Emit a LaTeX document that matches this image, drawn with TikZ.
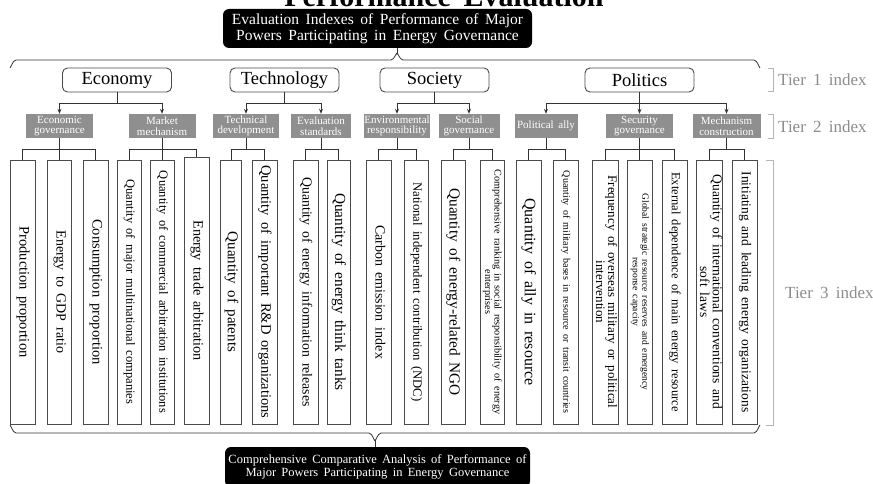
\documentclass[tikz,border=0pt]{standalone}
\usepackage{fontspec}
\setmainfont{Liberation Serif}[WordSpace=1.7]
\usepackage{graphicx}
\usetikzlibrary{arrows.meta}
\definecolor{boxline}{HTML}{4A4A4A}
\definecolor{tiergray}{HTML}{8F8F8F}
\definecolor{labgray}{HTML}{8C8C8C}
\definecolor{brgray}{HTML}{B4B4B4}
\newcommand{\vtext}[3]{\rotatebox{-90}{\fontsize{#1}{#2}\selectfont\begin{tabular}{@{}c@{}}#3\end{tabular}}}
\begin{document}
\begin{tikzpicture}[x=1pt,y=-1pt,
  tone/.style={draw=boxline, line width=0.9pt, rounded corners=5pt, minimum width=109, minimum height=24, inner sep=0, font=\fontsize{18.5}{20}\selectfont},
  ttwo/.style={fill=tiergray, text=white, minimum height=24, inner sep=0, align=center, font=\fontsize{11}{10.5}\selectfont},
  tthree/.style={draw=boxline, line width=0.9pt, fill=white, inner sep=0, minimum height=264},
  blackbox/.style={fill=black, text=white, rounded corners=6pt, align=center, inner sep=0},
  conn/.style={draw=black!80, line width=0.8pt},
  arr/.style={conn, -{Stealth[length=5pt,width=4pt]}},
  tierlab/.style={text=labgray, font=\fontsize{17}{17}\selectfont, anchor=west, inner sep=0},
  brk/.style={draw=brgray, line width=0.9pt}
]
\useasboundingbox (0,0) rectangle (873,484);

% title (cut off at top, as in the reference)
\node[anchor=base, inner sep=0, font=\bfseries\fontsize{30}{30}\selectfont] (title) at (444,7) {Performance Evaluation};

% top and bottom black boxes
\node[blackbox, minimum width=309, minimum height=39, font=\fontsize{15.5}{16}\selectfont] (top) at (377.5,28.5) {Evaluation Indexes of Performance of Major\\Powers Participating in Energy Governance};
\node[blackbox, minimum width=305, minimum height=40, font=\fontsize{12.5}{13}\selectfont] (bot) at (377.5,467) {Comprehensive Comparative Analysis of Performance of\\Major Powers Participating in Energy Governance};

% braces
\coordinate (ttip) at (397,54);
\draw[conn] (10,67) to[out=-90,in=180] (16,60) -- (391,60) to[out=0,in=90] (ttip) to[out=90,in=180] (403,60) -- (754,60) to[out=0,in=-90] (760,67);
\draw[conn] (top.south -| ttip) -- (ttip);
\coordinate (btip) at (375,440);
\draw[conn] (10,426) to[out=90,in=180] (16,433) -- (369,433) to[out=0,in=-90] (btip) to[out=-90,in=180] (381,433) -- (754,433) to[out=0,in=90] (760,426);
\draw[conn] (btip) -- (bot.north -| btip);

% tier 1
\node[tone] (eco) at (117,80) {Economy};
\node[tone] (tec) at (284.5,80) {Technology};
\node[tone] (soc) at (434.5,80) {Society};
\node[tone] (pol) at (639.5,80) {Politics};

% tier 2
\node[ttwo, minimum width=67] (eg) at (59.5,126) {Economic\\governance};
\node[ttwo, minimum width=67] (mm) at (162,126) {Market\\mechanism};
\node[ttwo, minimum width=66] (td) at (246,126) {Technical\\development};
\node[ttwo, minimum width=60] (ev) at (321,126) {Evaluation\\standards};
\node[ttwo, minimum width=66] (en) at (397,126) {Environmental\\responsibility};
\node[ttwo, minimum width=61] (sg) at (469,126) {Social\\governance};
\node[ttwo, minimum width=63] (pa) at (546,126) {Political ally};
\node[ttwo, minimum width=67] (sec) at (639.5,126) {Security\\governance};
\node[ttwo, minimum width=68] (mc) at (726.5,126) {Mechanism\\construction};

% tier 1 -> tier 2 arrows
\draw[arr] (eco.south) |- (eg.north |- 0,103) -- (eg.north);
\draw[arr] (eco.south) |- (mm.north |- 0,103) -- (mm.north);
\draw[arr] (tec.south) |- (td.north |- 0,103) -- (td.north);
\draw[arr] (tec.south) |- (ev.north |- 0,103) -- (ev.north);
\draw[arr] (soc.south) |- (en.north |- 0,103) -- (en.north);
\draw[arr] (soc.south) |- (sg.north |- 0,103) -- (sg.north);
\draw[arr] (pol.south) |- (pa.north |- 0,103) -- (pa.north);
\draw[arr] (pol.south) -- (sec.north);
\draw[arr] (pol.south) |- (mc.north |- 0,103) -- (mc.north);

% tier 3
\node[tthree, minimum width=25] (b1) at (22.5,292) {\vtext{14.5}{14}{Production proportion}};
\node[tthree, minimum width=24] (b2) at (59.5,292) {\vtext{14}{14}{Energy to GDP ratio}};
\node[tthree, minimum width=25] (b3) at (95.5,292) {\vtext{14.5}{14}{Consumption proportion}};
\node[tthree, minimum width=24] (b4) at (129,292) {\vtext{12.5}{13}{Quantity of major multinational companies}};
\node[tthree, minimum width=24] (b5) at (162,292) {\vtext{12.5}{13}{Quantity of commercial arbitration institutions}};
\node[tthree, minimum width=25, minimum height=267] (b6) at (196.5,290.5) {\vtext{14.2}{14}{Energy trade arbitration}};
\node[tthree, minimum width=21] (b7) at (231,292) {\vtext{15}{14}{Quantity of patents}};
\node[tthree, minimum width=25] (b8) at (264.5,292) {\vtext{14.5}{14}{Quantity of important R\&D organizations}};
\node[tthree, minimum width=25] (b9) at (305.5,292) {\vtext{13.8}{14}{Quantity of energy information releases}};
\node[tthree, minimum width=23] (b10) at (338.5,292) {\vtext{15.3}{14}{Quantity of energy think tanks}};
\node[tthree, minimum width=25] (b11) at (378.5,292) {\vtext{14}{14}{Carbon emission index}};
\node[tthree, minimum width=24] (b12) at (416,292) {\vtext{12.7}{13}{National independent contribution (NDC)}};
\node[tthree, minimum width=24] (b13) at (453,292) {\vtext{15.3}{14}{Quantity of energy-related NGO}};
\node[tthree, minimum width=24] (b14) at (492,292) {\vtext{10.2}{9.5}{Comprehensive ranking in social responsibility of energy\\enterprises}};
\node[tthree, minimum width=25] (b15) at (528.5,292) {\vtext{16}{14}{Quantity of ally in resource}};
\node[tthree, minimum width=25] (b16) at (565.5,292) {\vtext{10}{10}{Quantity of military bases in resource or transit countries}};
\node[tthree, minimum width=26] (b17) at (605,292) {\vtext{13}{11.5}{Frequency of overseas military or political\\intervention}};
\node[tthree, minimum width=25] (b18) at (639.5,292) {\vtext{9.5}{9.5}{Global strategic resource reserves and emergency\\response capacity}};
\node[tthree, minimum width=25] (b19) at (674.5,292) {\vtext{12.5}{13}{External dependence of main energy resource}};
\node[tthree, minimum width=25] (b20) at (709.5,292) {\vtext{13.5}{11.5}{Quantity of international conventions and\\soft laws}};
\node[tthree, minimum width=25] (b21) at (744.5,292) {\vtext{13.5}{13}{Initiating and leading energy organizations}};

% tier 2 -> tier 3 connectors
\draw[conn] (b1.north) |- (b3.north |- 0,149) -- (b3.north);
\draw[conn] (eg.south) -- (b2.north);
\draw[conn] (b4.north) |- (b6.north |- 0,149) -- (b6.north);
\draw[conn] (mm.south) -- (b5.north);
\draw[conn] (b7.north) |- (b8.north |- 0,149) -- (b8.north);
\draw[conn] (td.south) -- (td.south |- 0,149);
\draw[conn] (b9.north) |- (b10.north |- 0,149) -- (b10.north);
\draw[conn] (ev.south) -- (ev.south |- 0,149);
\draw[conn] (b11.north) |- (b12.north |- 0,149) -- (b12.north);
\draw[conn] (en.south) -- (en.south |- 0,149);
\draw[conn] (b13.north) |- (b14.north |- 0,149) -- (b14.north);
\draw[conn] (sg.south) -- (sg.south |- 0,149);
\draw[conn] (b15.north) |- (b16.north |- 0,149) -- (b16.north);
\draw[conn] (pa.south) -- (pa.south |- 0,149);
\draw[conn] (b17.north) |- (b19.north |- 0,149) -- (b19.north);
\draw[conn] (sec.south) -- (b18.north);
\draw[conn] (b20.north) |- (b21.north |- 0,149) -- (b21.north);
\draw[conn] (mc.south) -- (mc.south |- 0,149);

% tier labels
\draw[brk] (768,68) -- (773,68) -- (773,91) -- (768,91);
\node[tierlab] (l1) at (778,80) {Tier 1 index};
\draw[brk] (768,114) -- (773,114) -- (773,138) -- (768,138);
\node[tierlab] (l2) at (778,127) {Tier 2 index};
\draw[brk] (766,160) -- (773,160) -- (773,425) -- (766,425);
\node[tierlab] (l3) at (785,293) {Tier 3 index};
\end{tikzpicture}
\end{document}
